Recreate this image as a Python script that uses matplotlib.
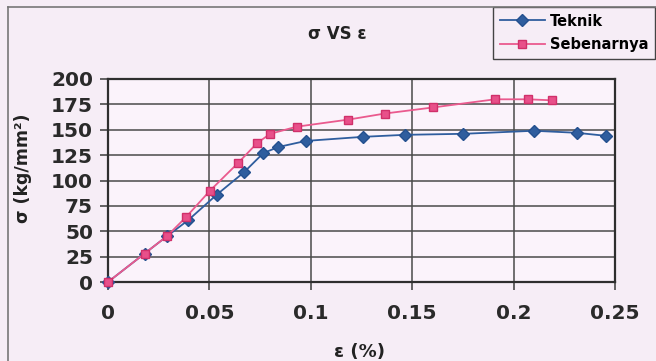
import matplotlib
matplotlib.use("Agg")
import matplotlib.pyplot as plt
from matplotlib.lines import Line2D

# Strain (%) and stress (kg/mm²) for both curves
eps_teknik = [0, 0.018, 0.029, 0.0396, 0.0536, 0.067, 0.0766, 0.084, 0.0976,
              0.1256, 0.1464, 0.1752, 0.21, 0.2311, 0.2456]
sig_teknik = [0, 28, 45, 61, 86, 108, 127, 133, 139, 143, 145, 146, 149, 147, 144]

eps_sebenarnya = [0, 0.018, 0.029, 0.0385, 0.0503, 0.064, 0.0736, 0.080, 0.093,
                  0.1185, 0.1366, 0.1604, 0.1908, 0.2073, 0.2188]
sig_sebenarnya = [0, 28, 45, 64, 90, 117, 137, 146, 153, 160, 166, 172, 180, 180, 179]

x_ticks = [0, 0.05, 0.1, 0.15, 0.2, 0.25]
x_tick_labels = ["0", "0.05", "0.1", "0.15", "0.2", "0.25"]
y_ticks = [0, 25, 50, 75, 100, 125, 150, 175, 200]

plt.rcParams["font.family"] = ["DejaVu Sans"]
plt.rcParams["font.weight"] = "bold"

BG = "#f6edf6"
W, H = 656, 361

fig = plt.figure(figsize=(W / 100, H / 100), dpi=100, facecolor=BG)
ax = fig.add_axes([108 / W, 1 - 282 / H, (615 - 108) / W, (282 - 79) / H])
ax.set_facecolor("#fbf3fb")

l1, = ax.plot(eps_teknik, sig_teknik, color="#2f5d9e", lw=1.3, marker="D",
              markersize=6.5, markerfacecolor="#2f5d9e", markeredgecolor="#24508f",
              label="Teknik", zorder=3, clip_on=False)
l2, = ax.plot(eps_sebenarnya, sig_sebenarnya, color="#ea5a8e", lw=1.3, marker="s",
              markersize=6, markerfacecolor="#e8508a", markeredgecolor="#d0306a",
              label="Sebenarnya", zorder=4, clip_on=False)

ax.set_xlim(0, 0.25)
ax.set_ylim(0, 200)
ax.set_xticks(x_ticks)
ax.set_xticklabels(x_tick_labels)
ax.set_yticks(y_ticks)
ax.grid(True, color="#4a4a4a", lw=1.1, zorder=0)
ax.set_axisbelow(True)
for s in ax.spines.values():
    s.set_color("#2e2e2e")
    s.set_linewidth(1.6)
ax.tick_params(axis="both", direction="out", length=5.8, width=1.1,
               color="#3a3a3a", labelsize=14.5, labelcolor="#2a2a2a")
ax.tick_params(axis="x", pad=10)
ax.tick_params(axis="y", pad=5)

fig.text(337 / W, 1 - 34 / H, "σ VS ε", ha="center", va="center",
         fontsize=12, fontweight="bold", color="#222")
fig.text(23 / W, 1 - 168 / H, "σ (kg/mm²)", ha="center", va="center",
         rotation=90, fontsize=12.5, fontweight="bold", color="#222")
fig.text(360 / W, 1 - 352 / H, "ε (%)", ha="center", va="center",
         fontsize=13, fontweight="bold", color="#222")

leg = ax.legend(handles=[l1, l2], loc="upper left",
                bbox_to_anchor=(493 / W, 1 - 7 / H), bbox_transform=fig.transFigure,
                frameon=True, fancybox=False, edgecolor="#444", facecolor=BG,
                framealpha=1, borderpad=0.45, borderaxespad=0,
                handlelength=3.1, handletextpad=0.35, labelspacing=0.6,
                prop={"size": 10.5, "weight": "bold"})
leg.get_frame().set_linewidth(1.0)

# chart-area border (left and top edges)
fig.add_artist(Line2D([8 / W, 8 / W], [0, 1 - 7 / H], transform=fig.transFigure,
                      color="#777", lw=1.2))
fig.add_artist(Line2D([8 / W, 1], [1 - 7 / H, 1 - 7 / H], transform=fig.transFigure,
                      color="#777", lw=1.2))

fig.savefig("out.png", dpi=100, facecolor=BG)
